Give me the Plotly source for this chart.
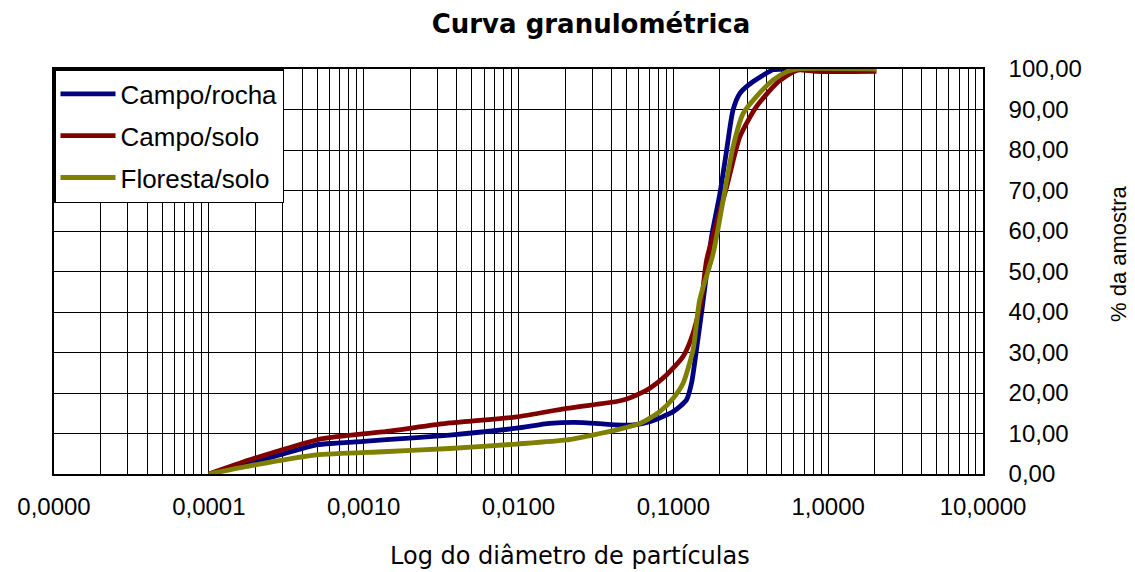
import plotly.graph_objects as go

# ---- data ----
series_names = ["Campo/rocha", "Campo/solo", "Floresta/solo"]
series_colors = ["#000080", "#800000", "#808000"]

rocha_d = [0.0001, 0.000184, 0.000495, 0.000667, 0.00133, 0.0036, 0.0097, 0.0159, 0.0261,
           0.043, 0.055, 0.0705, 0.0998, 0.1216, 0.131, 0.141, 0.156, 0.1766, 0.2, 0.221,
           0.243, 0.269, 0.328, 0.442, 0.6, 0.85]
rocha_pct = [0.0, 2.6, 7.2, 7.6, 8.4, 9.6, 11.3, 12.5, 12.7,
             12.1, 12.1, 12.9, 15.4, 18.3, 22.4, 30.6, 43.0, 58.6, 69.3, 80.0,
             89.9, 94.0, 96.9, 99.8, 100.0, 100.0]

solo_d = [0.0001, 0.000184, 0.000495, 0.000667, 0.00133, 0.0036, 0.0097, 0.0204, 0.043,
          0.05, 0.061, 0.0705, 0.090, 0.1156, 0.134, 0.152, 0.164, 0.221, 0.269, 0.344,
          0.465, 0.594, 0.656, 0.84, 2.05]
solo_pct = [0.0, 3.5, 8.4, 9.2, 10.4, 12.6, 14.1, 16.2, 17.9,
            18.5, 19.9, 21.2, 24.4, 29.0, 34.7, 43.0, 52.8, 70.9, 83.3, 90.7,
            96.5, 99.3, 99.8, 99.4, 99.4]

floresta_d = [0.0001, 0.000184, 0.000495, 0.00133, 0.0036, 0.0097, 0.0204, 0.0335, 0.043,
              0.061, 0.0818, 0.0998, 0.1156, 0.134, 0.148, 0.181, 0.21, 0.243, 0.282,
              0.344, 0.442, 0.538, 0.625, 2.05]
floresta_pct = [0.0, 2.0, 4.7, 5.5, 6.3, 7.4, 8.4, 10.0, 10.9,
                12.5, 15.4, 18.7, 22.4, 30.6, 43.0, 54.5, 67.7, 80.8, 89.0,
                93.2, 97.3, 99.3, 100.0, 100.0]

x_tick_vals = [0.00001, 0.0001, 0.001, 0.01, 0.1, 1, 10]
x_tick_text = ["0,0000", "0,0001", "0,0010", "0,0100", "0,1000", "1,0000", "10,0000"]

title_text = "Curva granulométrica"
x_title = "Log do diâmetro de partículas"
y_title = "% da amostra"

# ---- figure ----
W, H = 1135, 572
L, R, T, B = 54, 152, 69, 98
plot_w = W - L - R
plot_h = H - T - B

fig = go.Figure()
all_x = [rocha_d, solo_d, floresta_d]
all_y = [rocha_pct, solo_pct, floresta_pct]
for i, (name, col) in enumerate(zip(series_names, series_colors)):
    fig.add_trace(go.Scatter(
        x=all_x[i], y=all_y[i], name=name, mode="lines",
        line=dict(color=col, width=4.8, shape="spline", smoothing=0.6),
        legendgroup=name,
    ))

fig.update_layout(
    width=W, height=H,
    margin=dict(l=L, r=R, t=T, b=B),
    paper_bgcolor="white", plot_bgcolor="white",
    separators=",.",
    font=dict(family="Liberation Sans, Arial, sans-serif", color="black", size=22),
    title=dict(text=title_text, x=591 / W, xanchor="center", y=1 - 24 / H, yanchor="middle",
               xref="container", yref="container",
               font=dict(family="DejaVu Sans", size=26, color="black", weight="bold")),
    showlegend=True,
    legend=dict(x=0, y=1, xanchor="left", yanchor="top", bgcolor="white",
                bordercolor="black", borderwidth=1.5, tracegroupgap=5,
                font=dict(family="Liberation Sans, Arial, sans-serif", size=26),
                itemwidth=55),
    xaxis=dict(type="log", range=[-5, 1], tickmode="array", tickvals=x_tick_vals,
               ticktext=x_tick_text, showgrid=True, gridcolor="black", gridwidth=1,
               minor=dict(dtick="D1", showgrid=True, gridcolor="black", gridwidth=1, ticks=""),
               showline=True, linecolor="black", linewidth=1.5, mirror=True,
               ticks="", ticklabelstandoff=10, zeroline=False,
               tickfont=dict(size=24)),
    yaxis=dict(range=[0, 100], dtick=10, tick0=0, side="right", tickformat=".2f",
               showgrid=True, gridcolor="black", gridwidth=1,
               showline=True, linecolor="black", linewidth=1.5, mirror=True,
               ticks="", ticklabelstandoff=19, zeroline=False,
               tickfont=dict(size=24)),
)

# axis titles placed as annotations (centred where the reference has them)
fig.add_annotation(text=x_title, xref="paper", yref="paper",
                   x=(570 - L) / plot_w, y=(T + plot_h - 556) / plot_h,
                   xanchor="center", yanchor="middle", showarrow=False,
                   font=dict(family="DejaVu Sans", size=24, color="black"))
fig.add_annotation(text=y_title, xref="paper", yref="paper",
                   x=(1118 - L) / plot_w, y=(T + plot_h - 254) / plot_h,
                   xanchor="center", yanchor="middle", showarrow=False, textangle=-90,
                   font=dict(family="Liberation Sans, Arial, sans-serif", size=22, color="black"))

fig.write_html("out.html")
